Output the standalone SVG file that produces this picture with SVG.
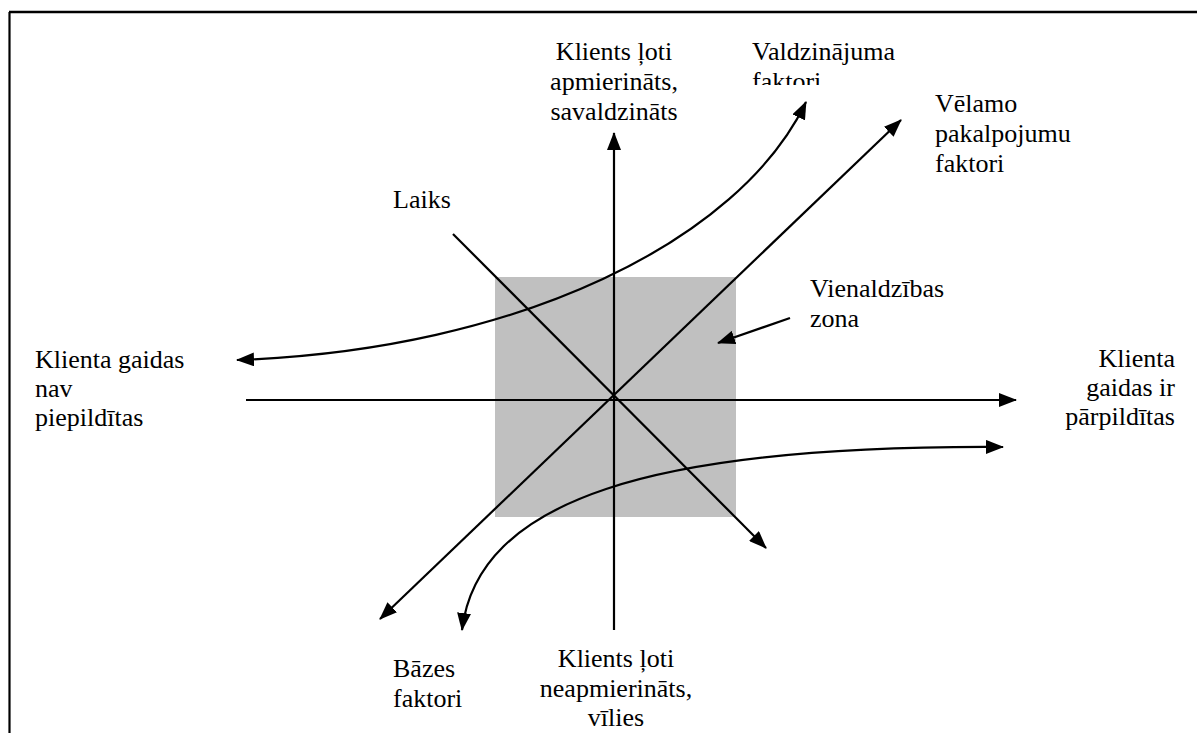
<svg xmlns="http://www.w3.org/2000/svg" width="1197" height="733" viewBox="0 0 1197 733">
<style>
text{font-family:"Liberation Serif","Tinos","Times New Roman","Noto Serif","DejaVu Serif",serif;font-size:26px;fill:#000}
.ln{stroke:#000;stroke-width:2.2;fill:none}
.mid{text-anchor:middle}
.end{text-anchor:end}
</style>
<defs>
<marker id="ah" markerUnits="userSpaceOnUse" markerWidth="18" markerHeight="14" refX="17" refY="7" orient="auto-start-reverse" viewBox="0 0 18 14">
<path d="M0,0 L18,7 L0,14 Z" fill="#000"/>
</marker>
<clipPath id="clipF"><rect x="740" y="60" width="120" height="25"/></clipPath>
</defs>
<rect width="1197" height="733" fill="#fff"/>
<g id="frame">
<line x1="9" y1="12" x2="1197" y2="12" stroke="#000" stroke-width="2.5"/>
<line x1="9.5" y1="12" x2="9.5" y2="733" stroke="#000" stroke-width="2.2"/>
</g>
<g id="zone"><rect x="495" y="277" width="241" height="240" fill="#c0c0c0"/></g>
<g id="connectors">
<line class="ln" x1="614" y1="630" x2="614" y2="133" marker-end="url(#ah)"/>
<line class="ln" x1="246" y1="400" x2="1016" y2="400" marker-end="url(#ah)"/>
<line class="ln" x1="453" y1="234" x2="766" y2="548" marker-end="url(#ah)"/>
<line class="ln" x1="380" y1="619" x2="901" y2="120" marker-start="url(#ah)" marker-end="url(#ah)"/>
<path class="ln" d="M237,360 C520,350 740,240 806,102" marker-start="url(#ah)" marker-end="url(#ah)"/>
<path class="ln" d="M462,630 C478,500 650,445 1003,447" marker-start="url(#ah)" marker-end="url(#ah)"/>
<line class="ln" x1="790" y1="318" x2="718" y2="343" marker-end="url(#ah)"/>
</g>
<g id="top-label"><text class="mid" x="614" y="60">Klients ļoti</text><text class="mid" x="614" y="90">apmierināts,</text><text class="mid" x="614" y="120">savaldzināts</text></g>
<g id="valdz-label"><text x="752" y="60">Valdzinājuma</text><text x="752" y="90" clip-path="url(#clipF)">faktori</text></g>
<g id="velamo-label"><text x="935" y="112">Vēlamo</text><text x="935" y="142">pakalpojumu</text><text x="935" y="172">faktori</text></g>
<g id="laiks-label"><text x="393" y="208">Laiks</text></g>
<g id="zona-label"><text x="810" y="297">Vienaldzības</text><text x="810" y="327">zona</text></g>
<g id="left-label"><text x="35" y="368">Klienta gaidas</text><text x="35" y="397">nav</text><text x="35" y="426">piepildītas</text></g>
<g id="right-label"><text class="end" x="1175" y="367">Klienta</text><text class="end" x="1175" y="396">gaidas ir</text><text class="end" x="1175" y="425">pārpildītas</text></g>
<g id="bazes-label"><text x="393" y="677">Bāzes</text><text x="393" y="707">faktori</text></g>
<g id="bottom-label"><text class="mid" x="616" y="667">Klients ļoti</text><text class="mid" x="616" y="697">neapmierināts,</text><text class="mid" x="616" y="726">vīlies</text></g>
</svg>
